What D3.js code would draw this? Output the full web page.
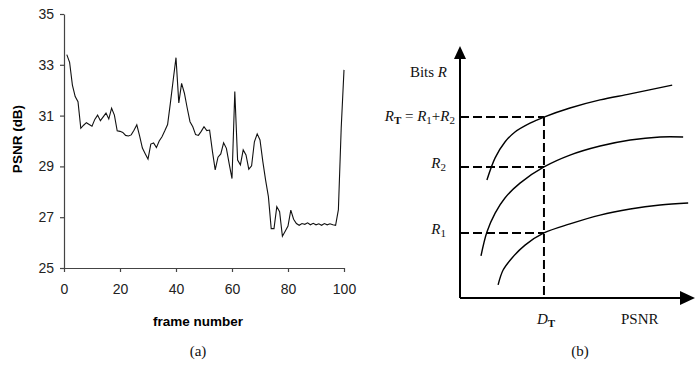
<!DOCTYPE html>
<html>
<head>
<meta charset="utf-8">
<script src="https://cdn.jsdelivr.net/npm/d3@7"></script>
<style>
  body { margin: 0; background: #fff; }
  svg { display: block; }
  .tick text { font-family: "Liberation Sans", Arial, sans-serif; font-size: 14px; fill: #222; }
  .serif { font-family: "Liberation Serif", "Times New Roman", serif; font-size: 15px; fill: #111; }
</style>
</head>
<body>
<svg id="chart" width="698" height="365"></svg>
<script>
// (a) PSNR per frame, frames 1..100
let frames = d3.range(1, 101)
let psnr = [
  33.4, 33.1, 32.2, 31.75, 31.55, 30.5, 30.62, 30.72, 30.65, 30.58,
  30.85, 31.02, 30.8, 30.95, 31.1, 30.87, 31.29, 31.02, 30.4, 30.38,
  30.34, 30.22, 30.2, 30.24, 30.42, 30.64, 30.2, 29.72, 29.5, 29.29,
  29.88, 29.92, 29.74, 30.0, 30.17, 30.4, 30.65, 31.5, 32.4, 33.28,
  31.5, 32.27, 31.88, 31.3, 30.76, 30.56, 30.25, 30.22, 30.38, 30.56,
  30.41, 30.43, 29.6, 28.86, 29.36, 29.49, 29.93, 29.71, 29.1, 28.52,
  31.95, 29.25, 29.06, 29.65, 29.45, 28.89, 29.02, 29.97, 30.28, 30.04,
  29.2, 28.46, 27.81, 26.55, 26.55, 27.41, 27.22, 26.25, 26.45, 26.65,
  27.28, 26.92, 26.75, 26.68, 26.75, 26.72, 26.78, 26.7, 26.76, 26.7,
  26.74, 26.68, 26.75, 26.7, 26.74, 26.7, 26.68, 27.3, 30.5, 32.8
]
let x_ticks = [0, 20, 40, 60, 80, 100]
let y_ticks = [25, 27, 29, 31, 33, 35]

// (b) rate curves, arbitrary units (psnr 0..103, bits 0..100)
let curve_top = [[11.8, 46.8], [15.4, 55.6], [19.7, 61.9], [24.1, 65.9], [30.7, 69.4],
                 [36.8, 71.8], [48.2, 75.4], [61.4, 78.6], [74.6, 81.0], [93.0, 84.5]]
let curve_mid = [[9.2, 16.7], [11.8, 26.2], [15.4, 33.7], [19.7, 39.7], [26.3, 45.6],
                 [36.8, 52.0], [48.2, 56.7], [61.4, 60.3], [74.6, 62.7], [87.7, 63.9], [97.8, 63.9]]
let curve_low = [[16.7, 5.2], [18.9, 11.1], [22.8, 15.9], [28.5, 21.0], [36.8, 25.8],
                 [48.2, 29.4], [61.4, 32.9], [74.6, 35.3], [87.7, 36.9], [100, 37.7]]
let d_target = 36.8
let rates = {rt: 71.8, r2: 52.0, r1: 25.8}

let svg = d3.select("#chart")

function draw_left() {
  let x = d3.scaleLinear().domain([0, 100]).range([64, 344]),
      y = d3.scaleLinear().domain([25, 35]).range([268, 14]);

  let g = svg.append("g").attr("id", "left")

  let x_axis = d3.axisBottom(x).tickValues(x_ticks).tickSize(4).tickSizeOuter(0).tickPadding(12)
  let y_axis = d3.axisLeft(y).tickValues(y_ticks).tickSize(4).tickSizeOuter(0).tickPadding(6)

  g.append("g").attr("transform", "translate(0,268)").call(x_axis)
  g.append("g").attr("transform", "translate(64,0)").call(y_axis)
  g.selectAll(".domain, .tick line").attr("stroke", "#444").attr("stroke-width", 1.2)

  let line = d3.line().x((d, i) => x(frames[i])).y(d => y(d))
  g.append("path")
    .datum(psnr)
    .attr("d", line)
    .attr("fill", "none")
    .attr("stroke", "#111")
    .attr("stroke-width", 1.1)

  g.append("text")
    .attr("transform", "translate(22,139) rotate(-90)")
    .attr("text-anchor", "middle")
    .style("font-family", "Liberation Sans, Arial, sans-serif")
    .style("font-weight", "bold")
    .style("font-size", "13.5px")
    .text("PSNR (dB)")

  g.append("text")
    .attr("x", 198).attr("y", 326)
    .attr("text-anchor", "middle")
    .style("font-family", "Liberation Sans, Arial, sans-serif")
    .style("font-weight", "bold")
    .style("font-size", "13.5px")
    .text("frame number")

  g.append("text")
    .attr("class", "serif")
    .attr("x", 198).attr("y", 356)
    .attr("text-anchor", "middle")
    .text("(a)")
}

function draw_right() {
  let x = d3.scaleLinear().domain([0, 103]).range([460, 695]),
      y = d3.scaleLinear().domain([0, 100]).range([298, 46]);

  let g = svg.append("g").attr("id", "right")

  // axes with arrows
  g.append("line")
    .attr("x1", x(0)).attr("y1", y(0)).attr("x2", x(0)).attr("y2", y(95))
    .attr("stroke", "#000").attr("stroke-width", 2)
  g.append("line")
    .attr("x1", x(0)).attr("y1", y(0)).attr("x2", x(98)).attr("y2", y(0))
    .attr("stroke", "#000").attr("stroke-width", 2)
  g.append("path")
    .attr("d", `M${x(0)},${y(100)} L${x(0) - 6},${y(100) + 13} L${x(0) + 6},${y(100) + 13} Z`)
    .attr("fill", "#000")
  g.append("path")
    .attr("d", `M${x(103)},${y(0)} L${x(103) - 15},${y(0) - 7} L${x(103) - 15},${y(0) + 7} Z`)
    .attr("fill", "#000")

  // dashed guides
  let dash = "9,4"
  Object.values(rates).forEach(r => {
    g.append("line")
      .attr("x1", x(0)).attr("x2", x(d_target))
      .attr("y1", y(r)).attr("y2", y(r))
      .attr("stroke", "#000").attr("stroke-width", 2)
      .attr("stroke-dasharray", dash)
  })
  g.append("line")
    .attr("x1", x(d_target)).attr("x2", x(d_target))
    .attr("y1", y(rates.rt)).attr("y2", y(0))
    .attr("stroke", "#000").attr("stroke-width", 2)
    .attr("stroke-dasharray", dash)

  // curves
  let line = d3.line().x(d => x(d[0])).y(d => y(d[1])).curve(d3.curveCatmullRom)
  g.selectAll("path.curve")
    .data([curve_top, curve_mid, curve_low]).enter()
    .append("path")
    .attr("class", "curve")
    .attr("d", line)
    .attr("fill", "none")
    .attr("stroke", "#000")
    .attr("stroke-width", 1.4)

  // labels
  let t = g.append("text").attr("class", "serif").attr("x", 447).attr("y", 77).attr("text-anchor", "end")
  t.append("tspan").text("Bits ")
  t.append("tspan").style("font-style", "italic").text("R")

  let rt = g.append("text").attr("class", "serif").attr("x", 455).attr("y", 121).attr("text-anchor", "end")
  rt.append("tspan").style("font-style", "italic").text("R")
  rt.append("tspan").attr("dy", 3).style("font-size", "11px").style("font-weight", "bold").text("T")
  rt.append("tspan").attr("dy", -3).text(" = ")
  rt.append("tspan").style("font-style", "italic").text("R")
  rt.append("tspan").attr("dy", 3).style("font-size", "11px").text("1")
  rt.append("tspan").attr("dy", -3).text("+")
  rt.append("tspan").style("font-style", "italic").text("R")
  rt.append("tspan").attr("dy", 3).style("font-size", "11px").text("2")

  ;[["2", rates.r2], ["1", rates.r1]].forEach(([s, r]) => {
    let l = g.append("text").attr("class", "serif").attr("x", 446).attr("y", y(r) + 1).attr("text-anchor", "end")
    l.append("tspan").style("font-style", "italic").text("R")
    l.append("tspan").attr("dy", 3).style("font-size", "11px").text(s)
  })

  let dt = g.append("text").attr("class", "serif").attr("x", x(d_target) - 7).attr("y", 324)
  dt.append("tspan").style("font-style", "italic").text("D")
  dt.append("tspan").attr("dy", 3).style("font-size", "11px").style("font-weight", "bold").text("T")

  g.append("text").attr("class", "serif").attr("x", 621).attr("y", 324).text("PSNR")
  g.append("text").attr("class", "serif").attr("x", 580).attr("y", 356).attr("text-anchor", "middle").text("(b)")
}

draw_left()
draw_right()
</script>
</body>
</html>
